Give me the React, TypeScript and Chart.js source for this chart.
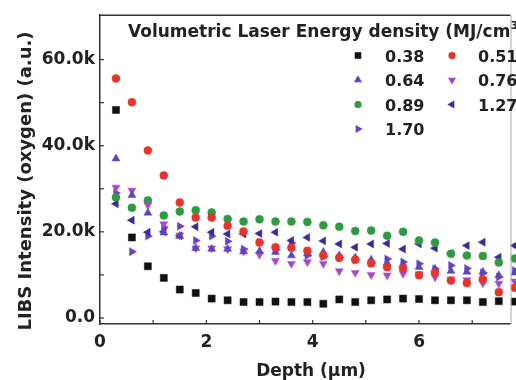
import React, { useEffect, useRef } from 'react';
import { Chart, registerables } from 'chart.js';
import { drawPoint } from 'chart.js/helpers';

Chart.register(...registerables);

// ---- data ----
const depths = [0.3, 0.6, 0.9, 1.2, 1.5, 1.8, 2.1, 2.4, 2.7, 3.0, 3.3, 3.6, 3.9, 4.2, 4.5, 4.8, 5.1, 5.4, 5.7, 6.0, 6.3, 6.6, 6.9, 7.2, 7.5, 7.8];

const seriesLabels = ['0.38', '0.51', '0.64', '0.76', '0.89', '1.27', '1.70'];

// intensities in thousands (k)
const e038 = [48.3, 18.7, 12.0, 9.3, 6.6, 5.8, 4.5, 4.1, 3.7, 3.7, 3.8, 3.7, 3.7, 3.3, 4.3, 3.7, 4.1, 4.3, 4.5, 4.4, 4.1, 4.1, 4.1, 3.7, 3.9, 3.8];
const e051 = [55.6, 50.1, 38.9, 33.1, 26.8, 23.3, 23.3, 21.4, 20.1, 17.5, 16.4, 16.3, 15.6, 14.5, 14.0, 13.5, 12.7, 11.8, 11.5, 9.9, 10.5, 8.7, 8.1, 9.0, 6.0, 7.0];
const e064 = [37.0, 28.5, 24.4, 19.8, 19.0, 16.2, 16.0, 16.0, 15.4, 15.5, 15.3, 14.5, 14.9, 15.3, 14.5, 14.0, 13.5, 12.8, 12.5, 11.8, 11.4, 10.9, 10.7, 10.7, 9.9, 10.5];
const e076 = [30.3, 29.6, 26.2, 21.8, 19.2, 16.2, 16.2, 16.0, 15.5, 14.7, 13.3, 12.6, 13.0, 12.6, 10.9, 10.5, 10.0, 9.9, 10.3, 10.2, 9.5, 9.0, 8.8, 8.1, 8.0, 8.5];
const e089 = [28.0, 25.6, 27.3, 23.8, 24.7, 25.0, 24.5, 23.0, 22.4, 22.9, 22.4, 22.4, 22.3, 21.5, 21.2, 20.2, 20.3, 19.1, 20.0, 18.0, 17.5, 14.9, 14.5, 14.4, 12.9, 13.8];
const e127 = [26.5, 22.7, 19.9, 20.0, 19.1, 21.2, 19.9, 19.5, 19.5, 19.6, 19.9, 18.0, 18.7, 17.9, 17.2, 16.4, 17.2, 17.3, 16.0, 17.2, 16.2, 15.0, 16.8, 17.6, 14.1, 16.8];
const e170 = [29.0, 15.4, 19.0, 21.0, 21.3, 18.0, 19.0, 17.8, 16.0, 17.6, 15.8, 17.4, 14.5, 14.2, 14.0, 13.5, 12.8, 13.7, 13.0, 12.6, 11.4, 12.2, 11.5, 10.5, 9.5, 11.0];

const seriesValues = [e038, e051, e064, e076, e089, e127, e170];

const xTickValues = [0, 2, 4, 6];
const xMinorTicks = [1, 3, 5, 7];
const yTickValues = [0, 20, 40, 60];
const yMinorTicks = [10, 30, 50];

const legendTitle = 'Volumetric Laser Energy density (MJ/cm';
const xTitle = 'Depth (\u00b5m)';
const yTitle = 'LIBS Intensity (oxygen) (a.u.)';

// ---- styles ----
const colors = ['#111111', '#e8332a', '#5846c2', '#a946cf', '#2f9a40', '#3a2b9c', '#6b3fca'];
const pointStyles = ['rect', 'circle', 'triangle', 'triangle', 'circle', 'triangle', 'triangle'];
const rotations = [0, 0, 0, 180, 0, 270, 90];
const radii = [5, 4, 4.6, 4.6, 4, 4.6, 4.6];

const FONT = "'DejaVu Sans', sans-serif";
const TEXT = '#222222';

const overlayPlugin = {
  id: 'overlay',
  afterDraw(chart: any) {
    const ctx = chart.ctx;
    const area = chart.chartArea;
    const xs = chart.scales.x;
    const ys = chart.scales.y;
    ctx.save();
    // frame (top, right)
    ctx.strokeStyle = '#333333';
    ctx.lineWidth = 1.5;
    ctx.beginPath();
    ctx.moveTo(area.left, area.top);
    ctx.lineTo(area.right, area.top);
    ctx.stroke();
    ctx.strokeStyle = '#aaaaaa';
    ctx.lineWidth = 1;
    ctx.beginPath();
    ctx.moveTo(area.right + 0.5, area.top);
    ctx.lineTo(area.right + 0.5, area.bottom);
    ctx.stroke();

    // inward ticks
    ctx.strokeStyle = '#333333';
    ctx.lineWidth = 1.2;
    const tickLen = 4;
    [...xTickValues, ...xMinorTicks].forEach((v) => {
      const px = xs.getPixelForValue(v);
      ctx.beginPath();
      ctx.moveTo(px, area.bottom);
      ctx.lineTo(px, area.bottom - tickLen);
      ctx.stroke();
    });
    [...yTickValues, ...yMinorTicks].forEach((v) => {
      const py = ys.getPixelForValue(v);
      ctx.beginPath();
      ctx.moveTo(area.left, py);
      ctx.lineTo(area.left + tickLen, py);
      ctx.stroke();
    });

    // axis titles
    ctx.fillStyle = TEXT;
    ctx.font = `bold 17px ${FONT}`;
    ctx.textAlign = 'center';
    ctx.textBaseline = 'alphabetic';
    ctx.fillText(xTitle, 311, 376);

    ctx.save();
    ctx.translate(31, 181);
    ctx.rotate(-Math.PI / 2);
    ctx.font = `bold 18px ${FONT}`;
    ctx.fillText(yTitle, 0, 0);
    ctx.restore();

    // legend title
    ctx.textAlign = 'left';
    ctx.font = `bold 17px ${FONT}`;
    const tx = 128;
    const ty = 37;
    ctx.fillText(legendTitle, tx, ty);
    let w = ctx.measureText(legendTitle).width;
    ctx.font = `bold 10px ${FONT}`;
    ctx.fillText('3', tx + w + 0.5, ty - 8);
    const w3 = ctx.measureText('3').width;
    ctx.font = `bold 17px ${FONT}`;
    ctx.fillText(')', tx + w + w3 + 1, ty);

    // legend items (2 columns)
    ctx.font = `bold 16px ${FONT}`;
    seriesLabels.forEach((lab, i) => {
      const col = i % 2;
      const row = Math.floor(i / 2);
      const baseY = 61.5 + row * 24.5;
      const mx = col === 0 ? 358 : 452;
      const lx = col === 0 ? 385 : 478;
      ctx.fillStyle = colors[i];
      ctx.strokeStyle = colors[i];
      drawPoint(
        ctx,
        { pointStyle: pointStyles[i], rotation: rotations[i], radius: radii[i] * 0.75, borderWidth: 1 } as any,
        mx,
        baseY - 6
      );
      ctx.fillStyle = TEXT;
      ctx.fillText(lab, lx, baseY);
    });
    ctx.restore();
  },
};

export default function App() {
  const canvasRef = useRef<HTMLCanvasElement | null>(null);

  useEffect(() => {
    document.body.style.margin = '0';
    const canvas = canvasRef.current;
    if (!canvas) return;

    const datasets = seriesLabels.map((lab, i) => ({
      label: lab,
      data: depths.map((d, j) => ({ x: d, y: seriesValues[i][j] })),
      showLine: false,
      pointStyle: pointStyles[i],
      rotation: rotations[i],
      pointRadius: radii[i],
      pointBorderWidth: 0.5,
      backgroundColor: colors[i],
      borderColor: colors[i],
      clip: false as any,
    }));

    const chart = new Chart(canvas, {
      type: 'scatter',
      data: { datasets },
      options: {
        responsive: false,
        animation: false,
        layout: { padding: { top: 12, right: 3, left: 0, bottom: 0 } },
        plugins: {
          legend: { display: false },
          tooltip: { enabled: false },
          title: { display: false },
        },
        scales: {
          x: {
            type: 'linear',
            min: 0,
            max: 7.72,
            grid: { display: false, drawTicks: false },
            border: { display: true, color: '#333333', width: 1.5 },
            afterBuildTicks: (scale: any) => {
              scale.ticks = xTickValues.map((v) => ({ value: v }));
            },
            afterFit: (scale: any) => {
              scale.height = 56;
            },
            ticks: {
              padding: 8,
              color: TEXT,
              font: { family: FONT, size: 17, weight: 'bold' },
              callback: (v: any) => String(v),
            },
          },
          y: {
            type: 'linear',
            min: -1.4,
            max: 70.3,
            grid: { display: false, drawTicks: false },
            border: { display: true, color: '#333333', width: 1.5 },
            afterBuildTicks: (scale: any) => {
              scale.ticks = yTickValues.map((v) => ({ value: v }));
            },
            afterFit: (scale: any) => {
              scale.width = 100;
            },
            ticks: {
              padding: 5,
              color: TEXT,
              font: { family: FONT, size: 17, weight: 'bold' },
              callback: (v: any) => (v === 0 ? '0.0' : `${Number(v).toFixed(1)}k`),
            },
          },
        },
      },
      plugins: [overlayPlugin],
    });

    return () => {
      chart.destroy();
    };
  }, []);

  return (
    <div style={{ width: 516, height: 380, background: '#ffffff' }}>
      <canvas ref={canvasRef} width={516} height={380} style={{ display: 'block' }} />
    </div>
  );
}
